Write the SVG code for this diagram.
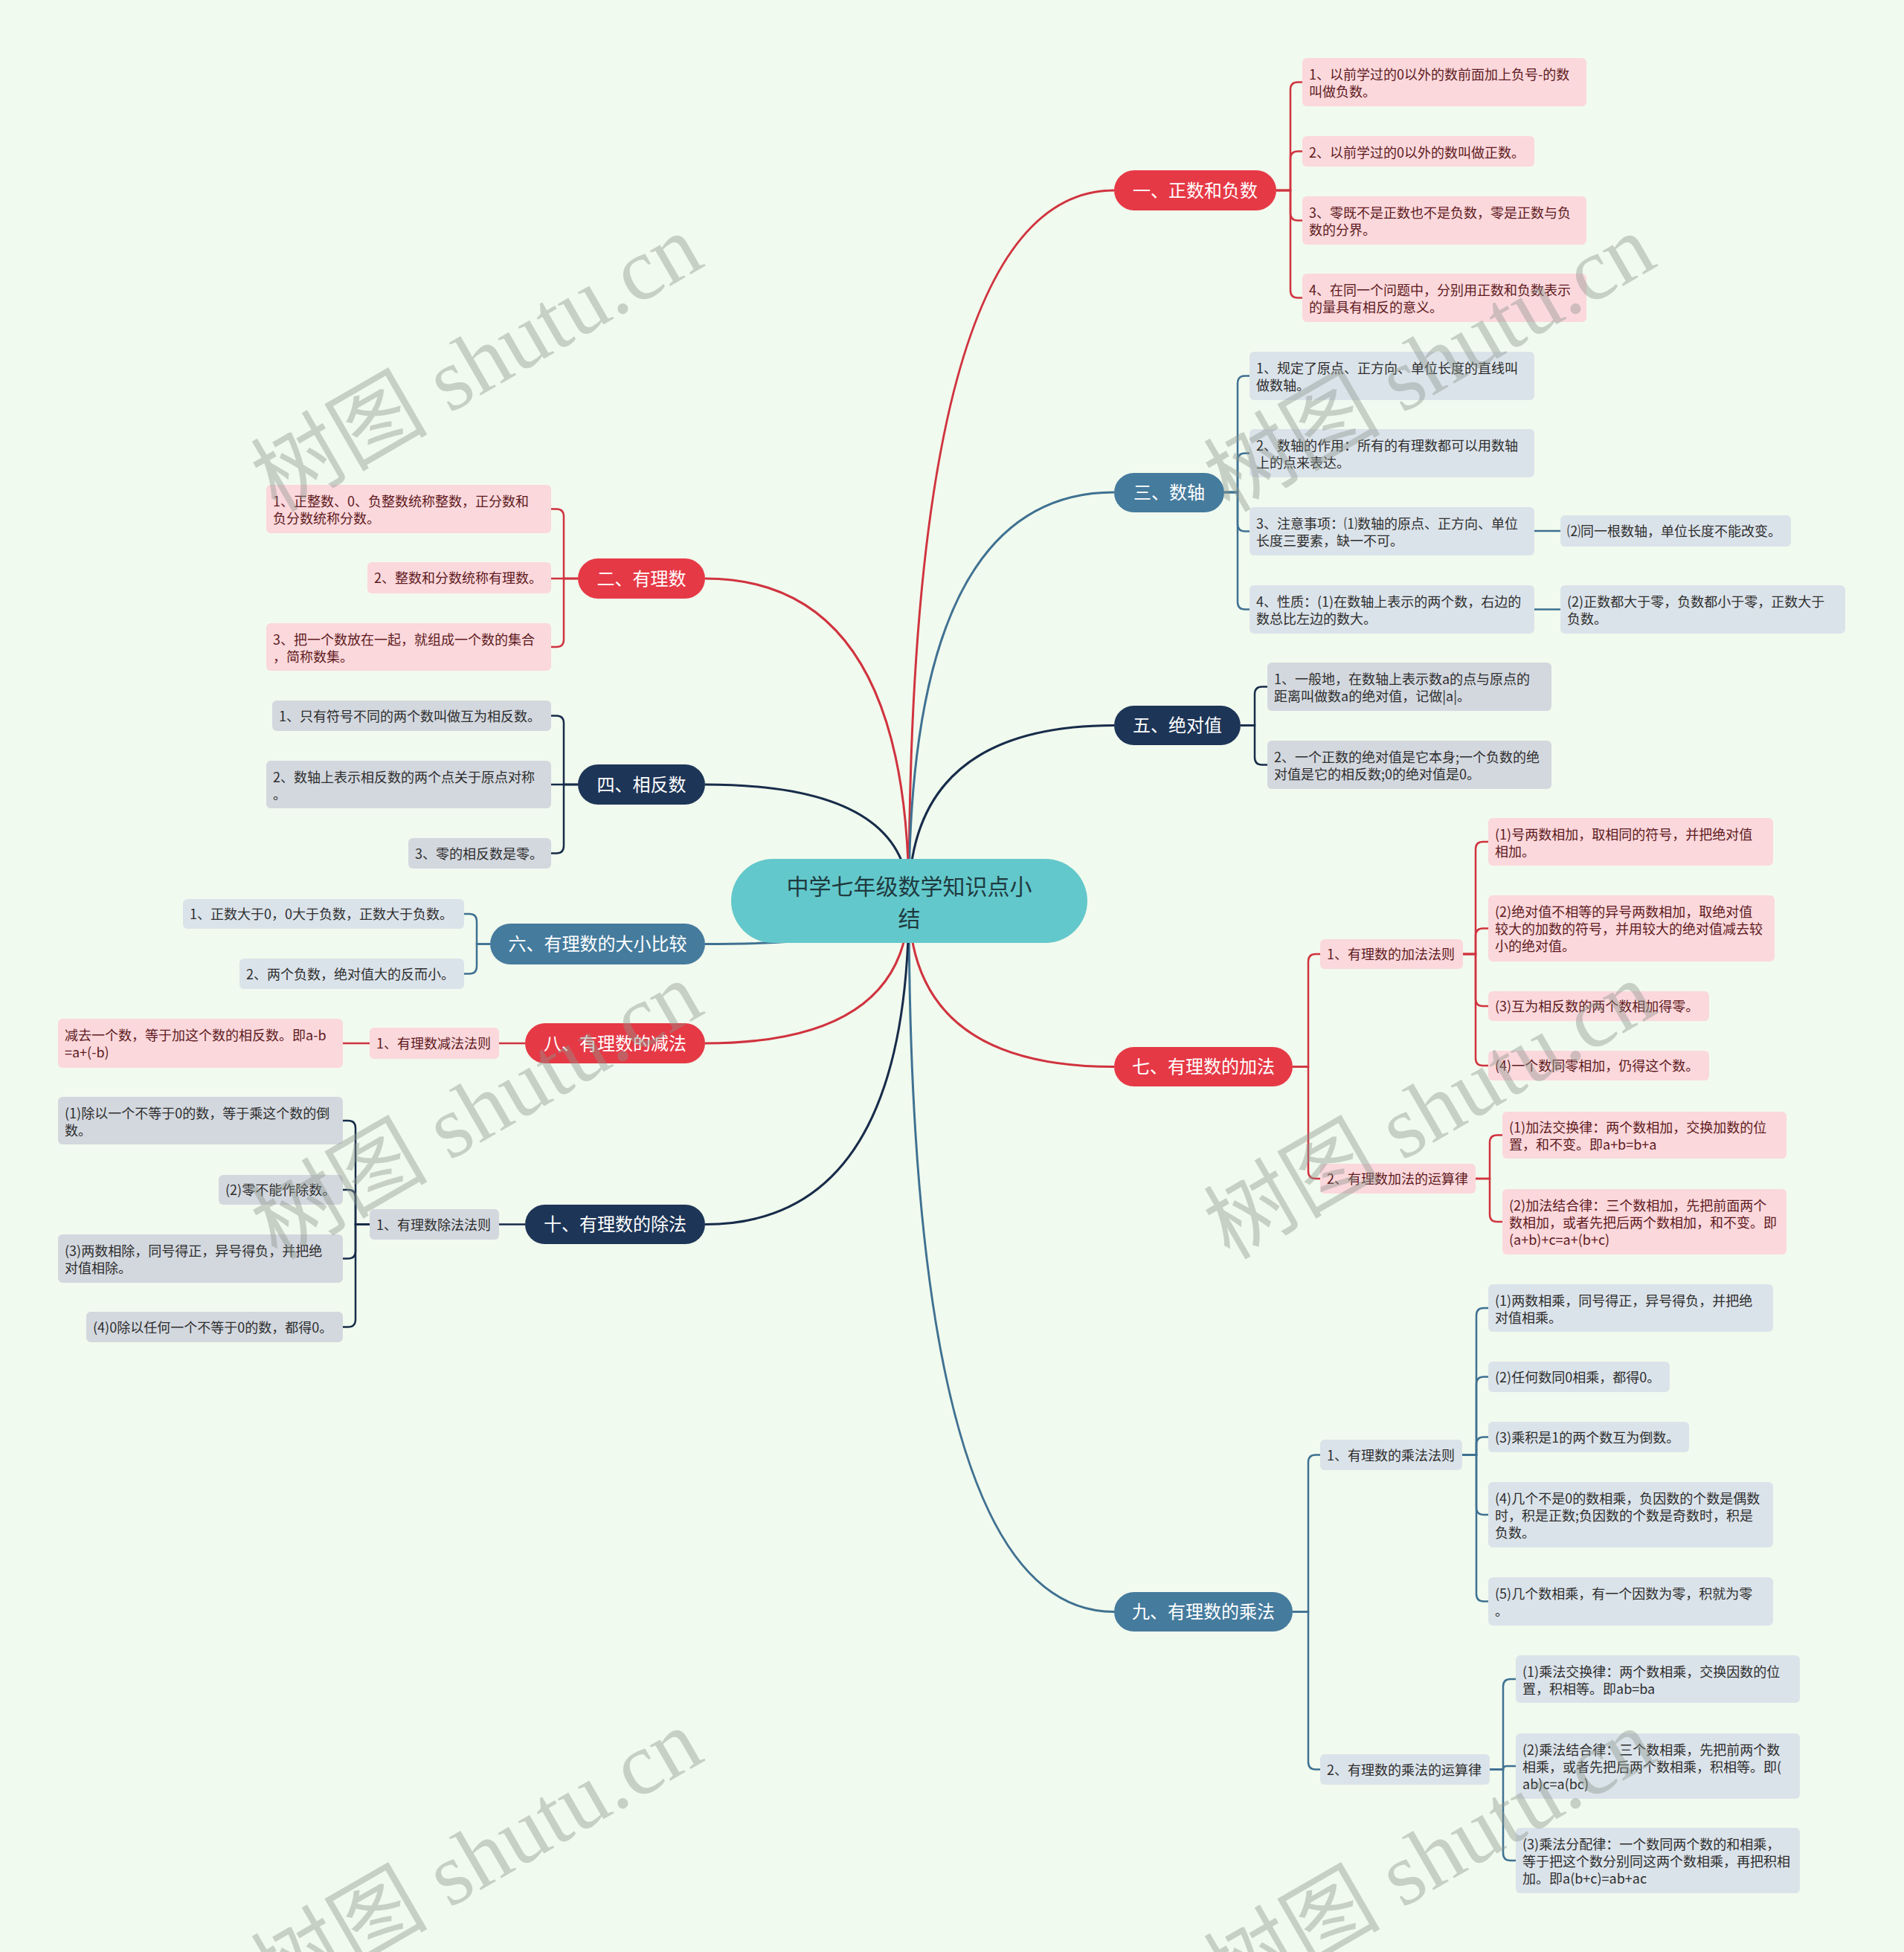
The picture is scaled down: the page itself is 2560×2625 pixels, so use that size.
<svg xmlns="http://www.w3.org/2000/svg" width="2560" height="2625" viewBox="0 0 2560 2625">
<defs>
<style>
text{font-family:"Noto Sans CJK SC","Noto Sans",sans-serif;}
.t1{font-size:24px;fill:#ffffff;text-anchor:middle;}
.tl{font-size:18px;}
.tp{fill:#5e1a21;}
.tg{fill:#2e2e2e;}
.red{fill:#e63946;}
.stl{fill:#457b9d;}
.nav{fill:#1d3557;}
.pk{fill:#fbd8dc;}
.lb{fill:#dbe3ea;}
.gy{fill:#d3d8df;}
.cr{fill:none;stroke:#d0333f;stroke-width:3;}
.cs{fill:none;stroke:#3f7192;stroke-width:3;}
.cn{fill:none;stroke:#172c4a;stroke-width:3;}
.sr{fill:none;stroke:#d0333f;stroke-width:2.5;}
.ss{fill:none;stroke:#3f7192;stroke-width:2.5;}
.sn{fill:none;stroke:#172c4a;stroke-width:2.5;}
.wm{font-family:"Liberation Serif","Noto Sans CJK SC",serif;font-size:119px;fill:#8c968c;fill-opacity:0.42;}
</style>
</defs>
<rect x="0" y="0" width="2560" height="2625" fill="#f1faee"/>

<g id="connectors">
<path class="cr" d="M1222,1211 Q1222,256 1498,256"/>
<path class="cs" d="M1222,1211 Q1222,662 1498,662"/>
<path class="cn" d="M1222,1211 Q1222,975.5 1498,975.5"/>
<path class="cr" d="M1222,1211 Q1222,1434.5 1498,1434.5"/>
<path class="cs" d="M1222,1211 Q1222,2167.5 1498,2167.5"/>
<path class="cr" d="M1222,1211 Q1222,778 948,778"/>
<path class="cn" d="M1222,1211 Q1222,1055 948,1055"/>
<path class="cs" d="M1222,1211 Q1222,1269.5 948,1269.5"/>
<path class="cr" d="M1222,1211 Q1222,1403 948,1403"/>
<path class="cn" d="M1222,1211 Q1222,1646.5 948,1646.5"/>

<path class="sr" d="M1716,256H1735V120.5Q1735,110.5 1745,110.5H1751"/>
<path class="sr" d="M1716,256H1735V213.5Q1735,203.5 1745,203.5H1751"/>
<path class="sr" d="M1716,256H1735V286.5Q1735,296.5 1745,296.5H1751"/>
<path class="sr" d="M1716,256H1735V390.5Q1735,400.5 1745,400.5H1751"/>

<path class="ss" d="M1646,662H1664V515.5Q1664,505.5 1674,505.5H1680"/>
<path class="ss" d="M1646,662H1664V619.5Q1664,609.5 1674,609.5H1680"/>
<path class="ss" d="M1646,662H1664V704.5Q1664,714.5 1674,714.5H1680"/>
<path class="ss" d="M1646,662H1664V809.5Q1664,819.5 1674,819.5H1680"/>
<path class="ss" d="M2063,714H2098"/>
<path class="ss" d="M2063,819.5H2098"/>

<path class="sn" d="M1668,975.5H1687V933.5Q1687,923.5 1697,923.5H1704"/>
<path class="sn" d="M1668,975.5H1687V1018.5Q1687,1028.5 1697,1028.5H1704"/>

<path class="sr" d="M1738,1434.5H1759V1293Q1759,1283 1769,1283H1775"/>
<path class="sr" d="M1738,1434.5H1759V1575Q1759,1585 1769,1585H1775"/>
<path class="sr" d="M1967,1283H1984V1142Q1984,1132 1994,1132H2001"/>
<path class="sr" d="M1967,1283H1984V1258.5Q1984,1248.5 1994,1248.5H2001"/>
<path class="sr" d="M1967,1283H1984V1343Q1984,1353 1994,1353H2001"/>
<path class="sr" d="M1967,1283H1984V1423Q1984,1433 1994,1433H2001"/>
<path class="sr" d="M1984,1585H2003V1536.5Q2003,1526.5 2013,1526.5H2020"/>
<path class="sr" d="M1984,1585H2003V1633Q2003,1643 2013,1643H2020"/>

<path class="ss" d="M1738,2167.5H1759V1966.5Q1759,1956.5 1769,1956.5H1775"/>
<path class="ss" d="M1738,2167.5H1759V2369.5Q1759,2379.5 1769,2379.5H1775"/>
<path class="ss" d="M1966,1956.5H1985V1769Q1985,1759 1995,1759H2001"/>
<path class="ss" d="M1966,1956.5H1985V1861.5Q1985,1851.5 1995,1851.5H2001"/>
<path class="ss" d="M1966,1956.5H1985V1942.5Q1985,1932.5 1995,1932.5H2001"/>
<path class="ss" d="M1966,1956.5H1985V2027Q1985,2037 1995,2037H2001"/>
<path class="ss" d="M1966,1956.5H1985V2143.5Q1985,2153.5 1995,2153.5H2001"/>
<path class="ss" d="M2003,2379.5H2021V2268Q2021,2258 2031,2258H2038"/>
<path class="ss" d="M2003,2379.5H2021Q2021,2375 2026,2375H2038"/>
<path class="ss" d="M2003,2379.5H2021V2492Q2021,2502 2031,2502H2038"/>

<path class="sr" d="M777,778H758V694.5Q758,684.5 748,684.5H741"/>
<path class="sr" d="M777,778H741"/>
<path class="sr" d="M777,778H758V860Q758,870 748,870H741"/>

<path class="sn" d="M777,1055H758V972.5Q758,962.5 748,962.5H741"/>
<path class="sn" d="M777,1055H741"/>
<path class="sn" d="M777,1055H758V1137.5Q758,1147.5 748,1147.5H741"/>

<path class="ss" d="M659,1269.5H641V1239Q641,1229 631,1229H624"/>
<path class="ss" d="M659,1269.5H641V1299.5Q641,1309.5 631,1309.5H624"/>

<path class="sr" d="M706,1403H671"/>
<path class="sr" d="M497,1403H461"/>

<path class="sn" d="M706,1646.5H671"/>
<path class="sn" d="M497,1646.5H478V1517Q478,1507 468,1507H461"/>
<path class="sn" d="M497,1646.5H478V1610Q478,1600 468,1600H461"/>
<path class="sn" d="M497,1646.5H478V1682.5Q478,1692.5 468,1692.5H461"/>
<path class="sn" d="M497,1646.5H478V1774.5Q478,1784.5 468,1784.5H461"/>
</g>

<g id="root">
<rect x="983" y="1155" width="479" height="113" rx="56.5" fill="#63c8cb"/>
<text x="1222.5" y="1203" font-size="30" fill="#1e3a40" text-anchor="middle">中学七年级数学知识点小</text>
<text x="1222.5" y="1246" font-size="30" fill="#1e3a40" text-anchor="middle">结</text>
</g>

<g id="n1"><rect class="red" x="1498" y="229" width="218" height="54" rx="27"/><text class="t1" x="1607" y="264.5">一、正数和负数</text></g>
<g id="n1-1"><rect class="pk" x="1751" y="78" width="382" height="65" rx="6"/><text class="tl tp" x="1760" y="107">1、以前学过的0以外的数前面加上负号-的数</text><text class="tl tp" x="1760" y="130">叫做负数。</text></g>
<g id="n1-2"><rect class="pk" x="1751" y="183" width="312" height="41" rx="6"/><text class="tl tp" x="1760" y="212">2、以前学过的0以外的数叫做正数。</text></g>
<g id="n1-3"><rect class="pk" x="1751" y="264" width="382" height="65" rx="6"/><text class="tl tp" x="1760" y="293">3、零既不是正数也不是负数，零是正数与负</text><text class="tl tp" x="1760" y="316">数的分界。</text></g>
<g id="n1-4"><rect class="pk" x="1751" y="368" width="382" height="65" rx="6"/><text class="tl tp" x="1760" y="397">4、在同一个问题中，分别用正数和负数表示</text><text class="tl tp" x="1760" y="420">的量具有相反的意义。</text></g>

<g id="n3"><rect class="stl" x="1498" y="636" width="148" height="53" rx="26.5"/><text class="t1" x="1572" y="670.5">三、数轴</text></g>
<g id="n3-1"><rect class="lb" x="1680" y="473" width="383" height="65" rx="6"/><text class="tl tg" x="1689" y="502">1、规定了原点、正方向、单位长度的直线叫</text><text class="tl tg" x="1689" y="525">做数轴。</text></g>
<g id="n3-2"><rect class="lb" x="1680" y="577" width="383" height="65" rx="6"/><text class="tl tg" x="1689" y="606">2、数轴的作用：所有的有理数都可以用数轴</text><text class="tl tg" x="1689" y="629">上的点来表达。</text></g>
<g id="n3-3"><rect class="lb" x="1680" y="682" width="383" height="65" rx="6"/><text class="tl tg" x="1689" y="711">3、注意事项：⑴数轴的原点、正方向、单位</text><text class="tl tg" x="1689" y="734">长度三要素，缺一不可。</text></g>
<g id="n3-3-1"><rect class="lb" x="2098" y="693" width="310" height="42" rx="6"/><text class="tl tg" x="2107" y="721">⑵同一根数轴，单位长度不能改变。</text></g>
<g id="n3-4"><rect class="lb" x="1680" y="787" width="383" height="65" rx="6"/><text class="tl tg" x="1689" y="816">4、性质：(1)在数轴上表示的两个数，右边的</text><text class="tl tg" x="1689" y="839">数总比左边的数大。</text></g>
<g id="n3-4-1"><rect class="lb" x="2098" y="787" width="383" height="65" rx="6"/><text class="tl tg" x="2107" y="816">(2)正数都大于零，负数都小于零，正数大于</text><text class="tl tg" x="2107" y="839">负数。</text></g>

<g id="n5"><rect class="nav" x="1498" y="949" width="170" height="53" rx="26.5"/><text class="t1" x="1583" y="984">五、绝对值</text></g>
<g id="n5-1"><rect class="gy" x="1704" y="891" width="382" height="65" rx="6"/><text class="tl tg" x="1713" y="920">1、一般地，在数轴上表示数a的点与原点的</text><text class="tl tg" x="1713" y="943">距离叫做数a的绝对值，记做|a|。</text></g>
<g id="n5-2"><rect class="gy" x="1704" y="996" width="382" height="65" rx="6"/><text class="tl tg" x="1713" y="1025">2、一个正数的绝对值是它本身;一个负数的绝</text><text class="tl tg" x="1713" y="1048">对值是它的相反数;0的绝对值是0。</text></g>

<g id="n7"><rect class="red" x="1498" y="1408" width="240" height="53" rx="26.5"/><text class="t1" x="1618" y="1443">七、有理数的加法</text></g>
<g id="n7-1"><rect class="pk" x="1775" y="1263" width="192" height="40" rx="6"/><text class="tl tp" x="1784" y="1290">1、有理数的加法法则</text></g>
<g id="n7-1-1"><rect class="pk" x="2001" y="1100" width="383" height="64" rx="6"/><text class="tl tp" x="2010" y="1129">(1)号两数相加，取相同的符号，并把绝对值</text><text class="tl tp" x="2010" y="1152">相加。</text></g>
<g id="n7-1-2"><rect class="pk" x="2001" y="1204" width="385" height="89" rx="6"/><text class="tl tp" x="2010" y="1233">(2)绝对值不相等的异号两数相加，取绝对值</text><text class="tl tp" x="2010" y="1256">较大的加数的符号，并用较大的绝对值减去较</text><text class="tl tp" x="2010" y="1279">小的绝对值。</text></g>
<g id="n7-1-3"><rect class="pk" x="2001" y="1333" width="297" height="40" rx="6"/><text class="tl tp" x="2010" y="1360">(3)互为相反数的两个数相加得零。</text></g>
<g id="n7-1-4"><rect class="pk" x="2001" y="1413" width="297" height="40" rx="6"/><text class="tl tp" x="2010" y="1440">(4)一个数同零相加，仍得这个数。</text></g>
<g id="n7-2"><rect class="pk" x="1775" y="1565" width="209" height="40" rx="6"/><text class="tl tp" x="1784" y="1592">2、有理数加法的运算律</text></g>
<g id="n7-2-1"><rect class="pk" x="2020" y="1495" width="382" height="63" rx="6"/><text class="tl tp" x="2029" y="1523">(1)加法交换律：两个数相加，交换加数的位</text><text class="tl tp" x="2029" y="1546">置，和不变。即a+b=b+a</text></g>
<g id="n7-2-2"><rect class="pk" x="2020" y="1599" width="382" height="88" rx="6"/><text class="tl tp" x="2029" y="1628">(2)加法结合律：三个数相加，先把前面两个</text><text class="tl tp" x="2029" y="1651">数相加，或者先把后两个数相加，和不变。即</text><text class="tl tp" x="2029" y="1674">(a+b)+c=a+(b+c)</text></g>

<g id="n9"><rect class="stl" x="1498" y="2141" width="240" height="53" rx="26.5"/><text class="t1" x="1618" y="2176">九、有理数的乘法</text></g>
<g id="n9-1"><rect class="lb" x="1775" y="1936" width="191" height="41" rx="6"/><text class="tl tg" x="1784" y="1964">1、有理数的乘法法则</text></g>
<g id="n9-1-1"><rect class="lb" x="2001" y="1727" width="383" height="64" rx="6"/><text class="tl tg" x="2010" y="1756">(1)两数相乘，同号得正，异号得负，并把绝</text><text class="tl tg" x="2010" y="1779">对值相乘。</text></g>
<g id="n9-1-2"><rect class="lb" x="2001" y="1831" width="244" height="41" rx="6"/><text class="tl tg" x="2010" y="1859">(2)任何数同0相乘，都得0。</text></g>
<g id="n9-1-3"><rect class="lb" x="2001" y="1912" width="270" height="41" rx="6"/><text class="tl tg" x="2010" y="1940">(3)乘积是1的两个数互为倒数。</text></g>
<g id="n9-1-4"><rect class="lb" x="2001" y="1993" width="383" height="88" rx="6"/><text class="tl tg" x="2010" y="2022">(4)几个不是0的数相乘，负因数的个数是偶数</text><text class="tl tg" x="2010" y="2045">时，积是正数;负因数的个数是奇数时，积是</text><text class="tl tg" x="2010" y="2068">负数。</text></g>
<g id="n9-1-5"><rect class="lb" x="2001" y="2121" width="383" height="65" rx="6"/><text class="tl tg" x="2010" y="2150">(5)几个数相乘，有一个因数为零，积就为零</text><text class="tl tg" x="2010" y="2173">。</text></g>
<g id="n9-2"><rect class="lb" x="1775" y="2359" width="228" height="41" rx="6"/><text class="tl tg" x="1784" y="2387">2、有理数的乘法的运算律</text></g>
<g id="n9-2-1"><rect class="lb" x="2038" y="2226" width="382" height="64" rx="6"/><text class="tl tg" x="2047" y="2255">(1)乘法交换律：两个数相乘，交换因数的位</text><text class="tl tg" x="2047" y="2278">置，积相等。即ab=ba</text></g>
<g id="n9-2-2"><rect class="lb" x="2038" y="2331" width="382" height="88" rx="6"/><text class="tl tg" x="2047" y="2360">(2)乘法结合律：三个数相乘，先把前两个数</text><text class="tl tg" x="2047" y="2383">相乘，或者先把后两个数相乘，积相等。即(</text><text class="tl tg" x="2047" y="2406">ab)c=a(bc)</text></g>
<g id="n9-2-3"><rect class="lb" x="2038" y="2458" width="382" height="88" rx="6"/><text class="tl tg" x="2047" y="2487">(3)乘法分配律：一个数同两个数的和相乘，</text><text class="tl tg" x="2047" y="2510">等于把这个数分别同这两个数相乘，再把积相</text><text class="tl tg" x="2047" y="2533">加。即a(b+c)=ab+ac</text></g>

<g id="n2"><rect class="red" x="777" y="751" width="171" height="54" rx="27"/><text class="t1" x="862.5" y="786.5">二、有理数</text></g>
<g id="n2-1"><rect class="pk" x="358" y="652" width="383" height="65" rx="6"/><text class="tl tp" x="367" y="681">1、正整数、0、负整数统称整数，正分数和</text><text class="tl tp" x="367" y="704">负分数统称分数。</text></g>
<g id="n2-2"><rect class="pk" x="494" y="756" width="247" height="42" rx="6"/><text class="tl tp" x="503" y="784">2、整数和分数统称有理数。</text></g>
<g id="n2-3"><rect class="pk" x="358" y="838" width="383" height="64" rx="6"/><text class="tl tp" x="367" y="867">3、把一个数放在一起，就组成一个数的集合</text><text class="tl tp" x="367" y="890">，简称数集。</text></g>

<g id="n4"><rect class="nav" x="777" y="1028" width="171" height="54" rx="27"/><text class="t1" x="862.5" y="1063.5">四、相反数</text></g>
<g id="n4-1"><rect class="gy" x="366" y="942" width="375" height="41" rx="6"/><text class="tl tg" x="375" y="970">1、只有符号不同的两个数叫做互为相反数。</text></g>
<g id="n4-2"><rect class="gy" x="358" y="1023" width="383" height="64" rx="6"/><text class="tl tg" x="367" y="1052">2、数轴上表示相反数的两个点关于原点对称</text><text class="tl tg" x="367" y="1075">。</text></g>
<g id="n4-3"><rect class="gy" x="549" y="1127" width="192" height="41" rx="6"/><text class="tl tg" x="558" y="1155">3、零的相反数是零。</text></g>

<g id="n6"><rect class="stl" x="659" y="1242" width="289" height="55" rx="27.5"/><text class="t1" x="803.5" y="1278">六、有理数的大小比较</text></g>
<g id="n6-1"><rect class="lb" x="246" y="1209" width="378" height="40" rx="6"/><text class="tl tg" x="255" y="1236">1、正数大于0，0大于负数，正数大于负数。</text></g>
<g id="n6-2"><rect class="lb" x="322" y="1289" width="302" height="41" rx="6"/><text class="tl tg" x="331" y="1317">2、两个负数，绝对值大的反而小。</text></g>

<g id="n8"><rect class="red" x="706" y="1376" width="242" height="54" rx="27"/><text class="t1" x="827" y="1411.5">八、有理数的减法</text></g>
<g id="n8-1"><rect class="pk" x="497" y="1382" width="174" height="42" rx="6"/><text class="tl tp" x="506" y="1410">1、有理数减法法则</text></g>
<g id="n8-1-1"><rect class="pk" x="78" y="1370" width="383" height="66" rx="6"/><text class="tl tp" x="87" y="1399">减去一个数，等于加这个数的相反数。即a-b</text><text class="tl tp" x="87" y="1422">=a+(-b)</text></g>

<g id="n10"><rect class="nav" x="706" y="1620" width="242" height="53" rx="26.5"/><text class="t1" x="827" y="1655">十、有理数的除法</text></g>
<g id="n10-1"><rect class="gy" x="497" y="1626" width="174" height="41" rx="6"/><text class="tl tg" x="506" y="1654">1、有理数除法法则</text></g>
<g id="n10-1-1"><rect class="gy" x="78" y="1475" width="383" height="64" rx="6"/><text class="tl tg" x="87" y="1504">(1)除以一个不等于0的数，等于乘这个数的倒</text><text class="tl tg" x="87" y="1527">数。</text></g>
<g id="n10-1-2"><rect class="gy" x="294" y="1580" width="167" height="40" rx="6"/><text class="tl tg" x="303" y="1607">(2)零不能作除数。</text></g>
<g id="n10-1-3"><rect class="gy" x="78" y="1660" width="383" height="65" rx="6"/><text class="tl tg" x="87" y="1689">(3)两数相除，同号得正，异号得负，并把绝</text><text class="tl tg" x="87" y="1712">对值相除。</text></g>
<g id="n10-1-4"><rect class="gy" x="116" y="1764" width="345" height="41" rx="6"/><text class="tl tg" x="125" y="1792">(4)0除以任何一个不等于0的数，都得0。</text></g>

<g id="watermarks">
<text class="wm" transform="translate(372,690) rotate(-30)">树图 shutu.cn</text>
<text class="wm" transform="translate(1653,690) rotate(-30)">树图 shutu.cn</text>
<text class="wm" transform="translate(372,1695) rotate(-30)">树图 shutu.cn</text>
<text class="wm" transform="translate(1653,1695) rotate(-30)">树图 shutu.cn</text>
<text class="wm" transform="translate(372,2700) rotate(-30)">树图 shutu.cn</text>
<text class="wm" transform="translate(1653,2700) rotate(-30)">树图 shutu.cn</text>
</g>
</svg>
